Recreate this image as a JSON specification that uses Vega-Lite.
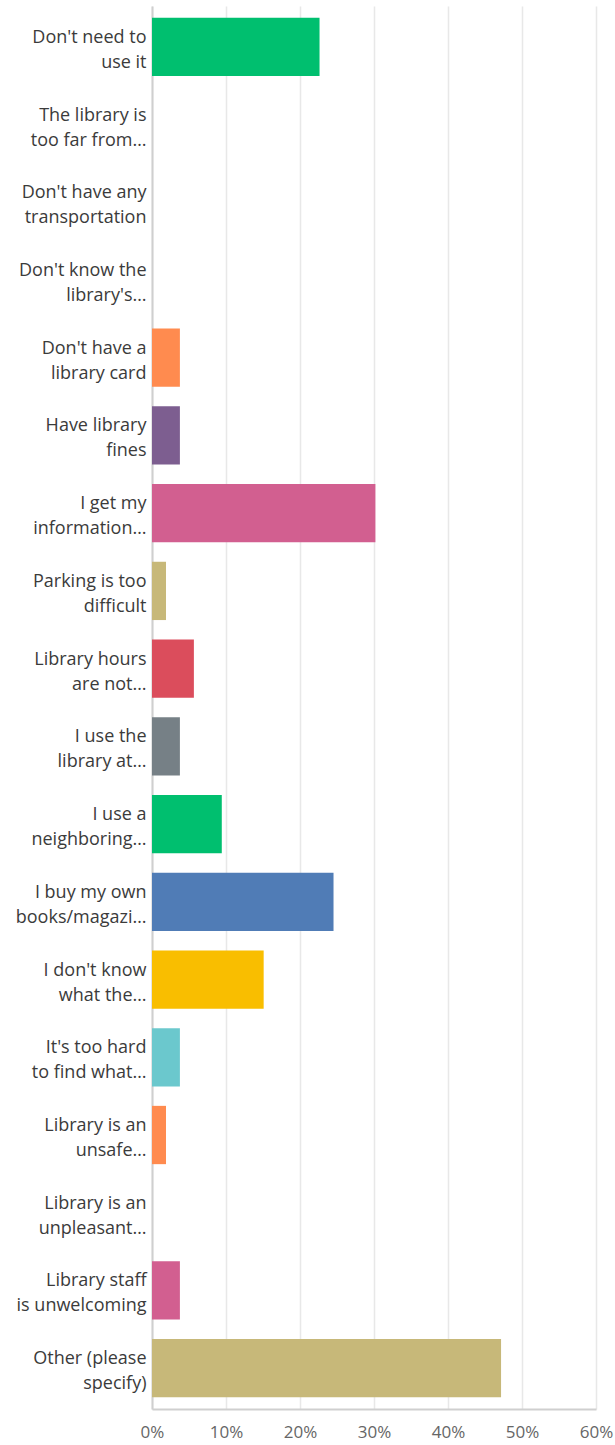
{
  "$schema": "https://vega.github.io/schema/vega-lite/v6.json",
  "width": 444,
  "height": 1403,
  "autosize": {"type": "none"},
  "padding": {"left": 152, "top": 6, "right": 19, "bottom": 36},
  "background": "white",
  "data": {
    "values": [
      {"answer": "Don't need to|use it", "pct": 0.2264},
      {"answer": "The library is|too far from…", "pct": 0},
      {"answer": "Don't have any|transportation", "pct": 0},
      {"answer": "Don't know the|library's…", "pct": 0},
      {"answer": "Don't have a|library card", "pct": 0.0377},
      {"answer": "Have library|fines", "pct": 0.0377},
      {"answer": "I get my|information…", "pct": 0.3019},
      {"answer": "Parking is too|difficult", "pct": 0.0189},
      {"answer": "Library hours|are not…", "pct": 0.0566},
      {"answer": "I use the|library at…", "pct": 0.0377},
      {"answer": "I use a|neighboring…", "pct": 0.0943},
      {"answer": "I buy my own|books/magazi…", "pct": 0.2453},
      {"answer": "I don't know|what the…", "pct": 0.1509},
      {"answer": "It's too hard|to find what…", "pct": 0.0377},
      {"answer": "Library is an|unsafe…", "pct": 0.0189},
      {"answer": "Library is an|unpleasant…", "pct": 0},
      {"answer": "Library staff|is unwelcoming", "pct": 0.0377},
      {"answer": "Other (please|specify)", "pct": 0.4717}
    ]
  },
  "mark": {"type": "bar"},
  "encoding": {
    "y": {
      "field": "answer",
      "type": "nominal",
      "sort": null,
      "scale": {"paddingInner": 0.25, "paddingOuter": 0.15},
      "axis": {
        "title": null,
        "labelExpr": "split(datum.value, '|')",
        "labelFont": "Open Sans",
        "labelFontSize": 18,
        "labelColor": "#3b3b3b",
        "labelLineHeight": 25,
        "labelPadding": 6,
        "labelOffset": -9,
        "labelLimit": 200,
        "ticks": false,
        "tickSize": 0,
        "domainColor": "#cfcfcf",
        "domainWidth": 2,
        "grid": false
      }
    },
    "x": {
      "field": "pct",
      "type": "quantitative",
      "scale": {"domain": [0, 0.6], "nice": false},
      "axis": {
        "title": null,
        "format": ".0%",
        "values": [0, 0.1, 0.2, 0.3, 0.4, 0.5, 0.6],
        "labelFlush": false,
        "labelFont": "Open Sans",
        "labelFontSize": 17,
        "labelColor": "#666666",
        "labelPadding": 15,
        "ticks": false,
        "tickSize": 0,
        "domainColor": "#cfcfcf",
        "domainWidth": 2,
        "grid": true,
        "gridColor": "#e8e8e8",
        "gridWidth": 1.5
      }
    },
    "color": {
      "field": "answer",
      "type": "nominal",
      "sort": null,
      "legend": null,
      "scale": {
        "domain": ["Don't need to|use it", "The library is|too far from…", "Don't have any|transportation", "Don't know the|library's…", "Don't have a|library card", "Have library|fines", "I get my|information…", "Parking is too|difficult", "Library hours|are not…", "I use the|library at…", "I use a|neighboring…", "I buy my own|books/magazi…", "I don't know|what the…", "It's too hard|to find what…", "Library is an|unsafe…", "Library is an|unpleasant…", "Library staff|is unwelcoming", "Other (please|specify)"],
        "range": ["#00BF6F", "#507CB6", "#F9BE00", "#6BC8CD", "#FF8B4F", "#7D5E90", "#D25F90", "#C7B879", "#DB4D5C", "#768086", "#00BF6F", "#507CB6", "#F9BE00", "#6BC8CD", "#FF8B4F", "#7D5E90", "#D25F90", "#C7B879"]
      }
    }
  },
  "config": {"view": {"stroke": null}}
}
